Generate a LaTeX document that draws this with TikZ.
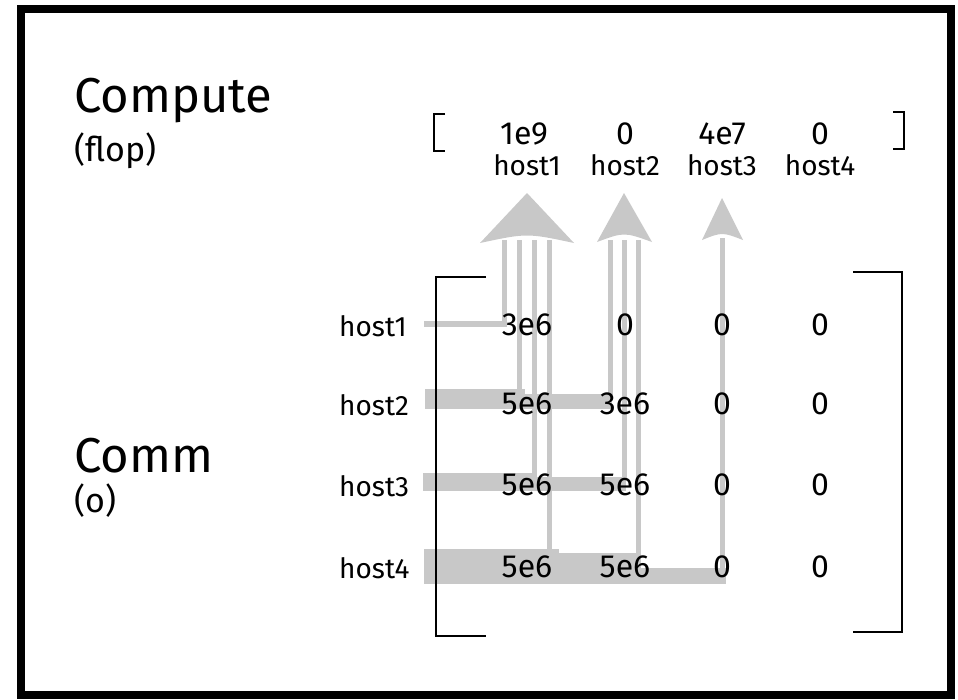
\documentclass[tikz,border=0pt]{standalone}
\usepackage{fontspec}
\setmainfont{Fira Sans}
\usepackage{tikz}
\definecolor{flowgrey}{RGB}{200,200,200}

\begin{document}
\begin{tikzpicture}[x=1pt, y=-1pt,
    flow/.style={fill=flowgrey},
    title/.style={font=\fontsize{49}{49}\selectfont, anchor=base west, inner sep=0pt},
    unit/.style={font=\fontsize{34}{34}\selectfont, anchor=base west, inner sep=0pt},
    val/.style={font=\fontsize{32}{32}\selectfont, anchor=base, inner sep=0pt},
    hostname/.style={font=\fontsize{28}{28}\selectfont, anchor=base, inner sep=0pt},
    bracket/.style={line width=2.5pt}]
    \useasboundingbox (0,0) rectangle (958,699);

    % Frame
    \draw[line width=8pt] (21,9) rectangle (951,695);

    % Bands leaving each sender row
    \fill[flow] (424,321) rectangle (507,327);                 % host1
    \fill[flow] (425,389) rectangle (525,409);                 % host2
    \fill[flow] (525,394) rectangle (612,409);
    \fill[flow] (423,473) rectangle (537,491);                 % host3
    \fill[flow] (537,477) rectangle (626,491);
    \fill[flow] (424,549) rectangle (559,584);                 % host4
    \fill[flow] (559,553) rectangle (641,584);
    \fill[flow] (641,568) rectangle (726,584);

    % Strands rising to the receivers
    \fill[flow] (501.5,240) rectangle (506.5,324);             % into host1
    \fill[flow] (516.5,240) rectangle (521.5,395);
    \fill[flow] (531.5,240) rectangle (536.5,478);
    \fill[flow] (546.5,240) rectangle (551.5,552);
    \fill[flow] (607.5,240) rectangle (612.5,395);             % into host2
    \fill[flow] (621.5,240) rectangle (626.5,478);
    \fill[flow] (635.5,240) rectangle (640.5,555);
    \fill[flow] (719.5,238) rectangle (724.5,575);             % into host3

    % Arrow heads
    \fill[flow] (527,193) -- (574,243) .. controls (527,233) .. (480,243) -- cycle;
    \fill[flow] (624,193) -- (652,242) .. controls (624,232) .. (597,242) -- cycle;
    \fill[flow] (722,198) -- (743,240) .. controls (722,232) .. (702,240) -- cycle;

    % Compute vector
    \node[title] (compute) at (74,112) {Compute};
    \node[unit] (flop) at (74,161) {(flop)};
    \draw[line width=2pt] (445,114) -- (434,114) -- (434,151) -- (445,151);
    \draw[line width=2pt] (893,112) -- (904,112) -- (904,149) -- (893,149);
    \node[val] (c1) at (524,144) {1e9};
    \node[val] (c2) at (625,144) {0};
    \node[val] (c3) at (722,144) {4e7};
    \node[val] (c4) at (820,144) {0};
    \node[hostname] (h1) at (527,175) {host1};
    \node[hostname] (h2) at (625,175) {host2};
    \node[hostname] (h3) at (722,175) {host3};
    \node[hostname] (h4) at (820,175) {host4};

    % Comm matrix
    \node[title] (comm) at (74,472) {Comm};
    \node[unit] (o) at (74,512) {(o)};
    \draw[bracket] (486,277) -- (436,277) -- (436,636) -- (486,636);
    \draw[bracket] (853,272) -- (902,272) -- (902,632) -- (853,632);
    \node[hostname, anchor=base west] (r1) at (339,336) {host1};
    \node[hostname, anchor=base west] (r2) at (339,415) {host2};
    \node[hostname, anchor=base west] (r3) at (339,496) {host3};
    \node[hostname, anchor=base west] (r4) at (339,578) {host4};

    \node[val] (m11) at (527,335) {3e6};
    \node[val] (m12) at (625,335) {0};
    \node[val] (m13) at (722,335) {0};
    \node[val] (m14) at (820,335) {0};
    \node[val] (m21) at (527,414) {5e6};
    \node[val] (m22) at (625,414) {3e6};
    \node[val] (m23) at (722,414) {0};
    \node[val] (m24) at (820,414) {0};
    \node[val] (m31) at (527,495) {5e6};
    \node[val] (m32) at (625,495) {5e6};
    \node[val] (m33) at (722,495) {0};
    \node[val] (m34) at (820,495) {0};
    \node[val] (m41) at (527,577) {5e6};
    \node[val] (m42) at (625,577) {5e6};
    \node[val] (m43) at (722,577) {0};
    \node[val] (m44) at (820,577) {0};
\end{tikzpicture}
\end{document}
